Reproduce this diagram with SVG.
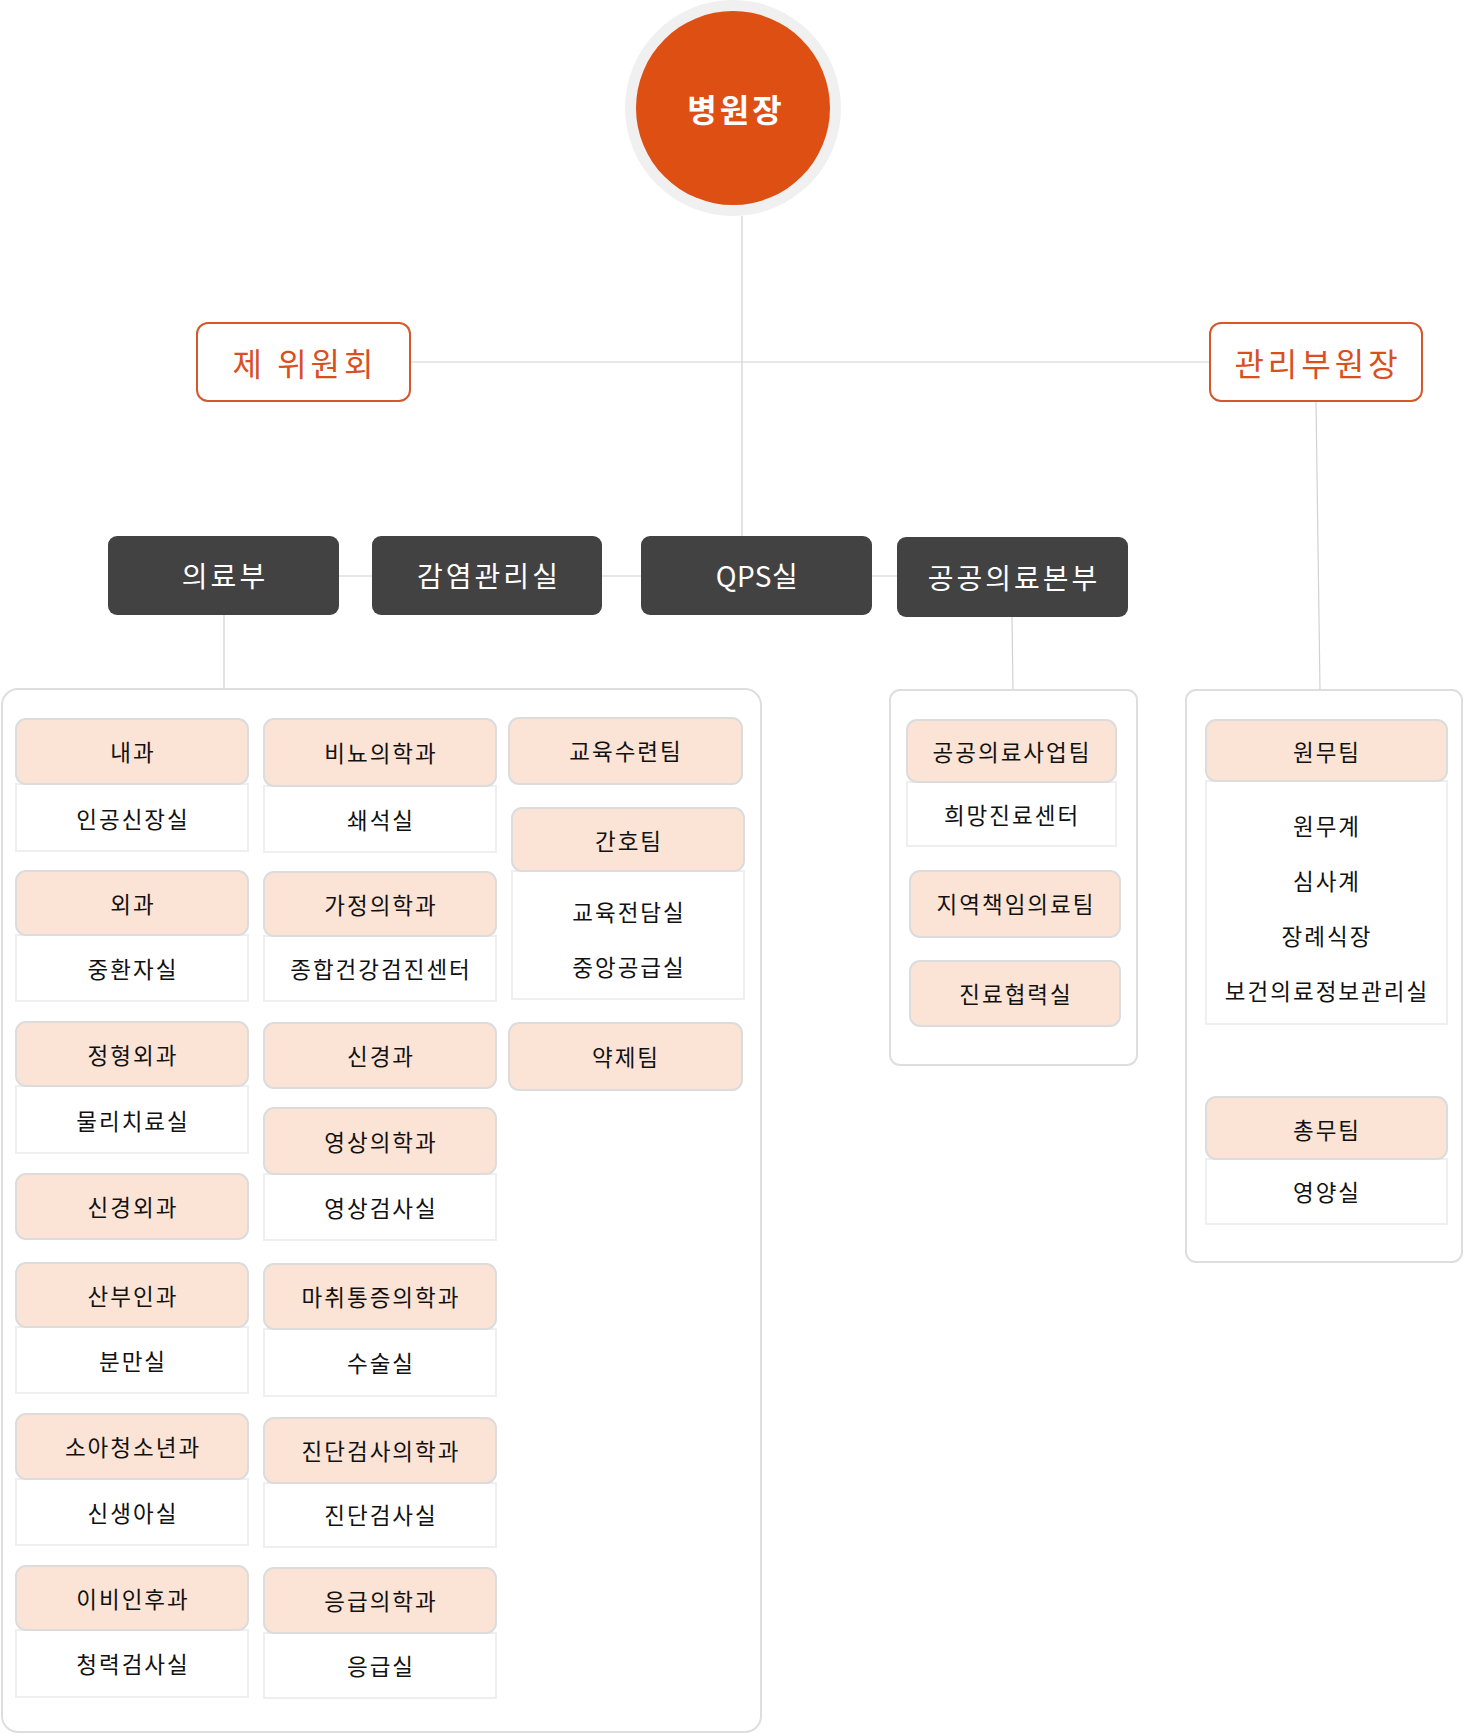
<svg xmlns="http://www.w3.org/2000/svg" width="1464" height="1734" viewBox="0 0 1464 1734">
<style>
.bg{fill:#ffffff}
.conn{stroke:#d2d2d2;stroke-width:1.2;fill:none}
.grp{fill:#ffffff;stroke:#dedede;stroke-width:2}
.hdr{fill:#fbe4d6;stroke:#dcdcdc;stroke-width:2}
.bdy{fill:#ffffff;stroke:#efefef;stroke-width:2}
.dark{fill:#424242}
.out{fill:#ffffff;stroke:#d4582a;stroke-width:2}
.t{font-family:"Noto Sans CJK KR","Noto Sans",sans-serif;font-size:22.5px;fill:#111111;text-anchor:middle;dominant-baseline:central;letter-spacing:2px}
.td{font-family:"Noto Sans CJK KR","Noto Sans",sans-serif;font-size:28px;fill:#ffffff;text-anchor:middle;dominant-baseline:central;letter-spacing:3px}
.to{font-family:"Noto Sans CJK KR","Noto Sans",sans-serif;font-size:32px;fill:#d9501e;text-anchor:middle;dominant-baseline:central;letter-spacing:4px}
.tc{font-family:"Noto Sans CJK KR","Noto Sans",sans-serif;font-size:32px;font-weight:bold;fill:#ffffff;text-anchor:middle;dominant-baseline:central;letter-spacing:3px}
</style>
<rect class="bg" x="0" y="0" width="1464" height="1734"/>

<g id="connectors">
<line class="conn" x1="742" y1="216" x2="742" y2="537"/>
<line class="conn" x1="410" y1="362" x2="1209" y2="362"/>
<line class="conn" x1="1316" y1="401" x2="1320" y2="690"/>
<line class="conn" x1="338" y1="576" x2="897" y2="576"/>
<line class="conn" x1="224" y1="615" x2="224" y2="689"/>
<line class="conn" x1="1012" y1="617" x2="1013" y2="690"/>
</g>

<g id="director">
<circle cx="733" cy="108" r="108" fill="#f0f0f0"/>
<circle cx="733" cy="108" r="97" fill="#de4f14"/>
<text class="tc" x="736" y="108">병원장</text>
</g>

<g id="committee">
<rect class="out" x="197" y="323" width="213" height="78" rx="11"/>
<text class="to" x="305" y="362">제 위원회</text>
</g>
<g id="vice-director">
<rect class="out" x="1210" y="323" width="212" height="78" rx="11"/>
<text class="to" x="1318" y="362">관리부원장</text>
</g>

<g id="medical-dept">
<rect class="dark" x="108" y="536" width="231" height="79" rx="9"/>
<text class="td" x="225" y="575">의료부</text>
</g>
<g id="infection-control">
<rect class="dark" x="372" y="536" width="230" height="79" rx="9"/>
<text class="td" x="489" y="575">감염관리실</text>
</g>
<g id="qps">
<rect class="dark" x="641" y="536" width="231" height="79" rx="9"/>
<text class="td" x="757" y="575" style="letter-spacing:0.5px">QPS실</text>
</g>
<g id="public-health">
<rect class="dark" x="897" y="537" width="231" height="80" rx="9"/>
<text class="td" x="1014" y="577">공공의료본부</text>
</g>

<g id="group-medical">
<rect class="grp" x="2" y="689" width="759" height="1043" rx="16"/>
</g>
<g id="group-public">
<rect class="grp" x="890" y="690" width="247" height="375" rx="10"/>
</g>
<g id="group-admin">
<rect class="grp" x="1186" y="690" width="276" height="572" rx="10"/>
</g>

<!-- Column 1 -->
<g id="n-naegwa">
<rect class="bdy" x="16" y="784" width="232" height="67"/>
<rect class="hdr" x="16" y="719" width="232" height="65" rx="10"/>
<text class="t" x="133" y="751">내과</text>
<text class="t" x="133" y="818">인공신장실</text>
</g>
<g id="n-oegwa">
<rect class="bdy" x="16" y="935" width="232" height="66"/>
<rect class="hdr" x="16" y="871" width="232" height="64" rx="10"/>
<text class="t" x="133" y="903">외과</text>
<text class="t" x="133" y="968">중환자실</text>
</g>
<g id="n-ortho">
<rect class="bdy" x="16" y="1086" width="232" height="67"/>
<rect class="hdr" x="16" y="1022" width="232" height="64" rx="10"/>
<text class="t" x="133" y="1054">정형외과</text>
<text class="t" x="133" y="1120">물리치료실</text>
</g>
<g id="n-neurosurg">
<rect class="hdr" x="16" y="1174" width="232" height="65" rx="10"/>
<text class="t" x="133" y="1206">신경외과</text>
</g>
<g id="n-obgyn">
<rect class="bdy" x="16" y="1327" width="232" height="66"/>
<rect class="hdr" x="16" y="1263" width="232" height="64" rx="10"/>
<text class="t" x="133" y="1295">산부인과</text>
<text class="t" x="133" y="1360">분만실</text>
</g>
<g id="n-pediatrics">
<rect class="bdy" x="16" y="1479" width="232" height="66"/>
<rect class="hdr" x="16" y="1414" width="232" height="65" rx="10"/>
<text class="t" x="133" y="1446">소아청소년과</text>
<text class="t" x="133" y="1512">신생아실</text>
</g>
<g id="n-ent">
<rect class="bdy" x="16" y="1630" width="232" height="67"/>
<rect class="hdr" x="16" y="1566" width="232" height="64" rx="10"/>
<text class="t" x="133" y="1598">이비인후과</text>
<text class="t" x="133" y="1663">청력검사실</text>
</g>

<!-- Column 2 -->
<g id="n-urology">
<rect class="bdy" x="264" y="786" width="232" height="66"/>
<rect class="hdr" x="264" y="719" width="232" height="67" rx="10"/>
<text class="t" x="381" y="752">비뇨의학과</text>
<text class="t" x="381" y="819">쇄석실</text>
</g>
<g id="n-family">
<rect class="bdy" x="264" y="936" width="232" height="65"/>
<rect class="hdr" x="264" y="872" width="232" height="64" rx="10"/>
<text class="t" x="381" y="904">가정의학과</text>
<text class="t" x="381" y="968">종합건강검진센터</text>
</g>
<g id="n-neurology">
<rect class="hdr" x="264" y="1023" width="232" height="65" rx="10"/>
<text class="t" x="381" y="1055">신경과</text>
</g>
<g id="n-radiology">
<rect class="bdy" x="264" y="1174" width="232" height="66"/>
<rect class="hdr" x="264" y="1108" width="232" height="66" rx="10"/>
<text class="t" x="381" y="1141">영상의학과</text>
<text class="t" x="381" y="1207">영상검사실</text>
</g>
<g id="n-anesthesia">
<rect class="bdy" x="264" y="1329" width="232" height="67"/>
<rect class="hdr" x="264" y="1264" width="232" height="65" rx="10"/>
<text class="t" x="381" y="1296">마취통증의학과</text>
<text class="t" x="381" y="1362">수술실</text>
</g>
<g id="n-labmed">
<rect class="bdy" x="264" y="1483" width="232" height="64"/>
<rect class="hdr" x="264" y="1418" width="232" height="65" rx="10"/>
<text class="t" x="381" y="1450">진단검사의학과</text>
<text class="t" x="381" y="1514">진단검사실</text>
</g>
<g id="n-emergency">
<rect class="bdy" x="264" y="1633" width="232" height="65"/>
<rect class="hdr" x="264" y="1568" width="232" height="65" rx="10"/>
<text class="t" x="381" y="1600">응급의학과</text>
<text class="t" x="381" y="1665">응급실</text>
</g>

<!-- Column 3 -->
<g id="n-education">
<rect class="hdr" x="509" y="718" width="233" height="66" rx="10"/>
<text class="t" x="626" y="750">교육수련팀</text>
</g>
<g id="n-nursing">
<rect class="bdy" x="512" y="871" width="232" height="128"/>
<rect class="hdr" x="512" y="808" width="232" height="63" rx="10"/>
<text class="t" x="629" y="840">간호팀</text>
<text class="t" x="629" y="911">교육전담실</text>
<text class="t" x="629" y="966">중앙공급실</text>
</g>
<g id="n-pharmacy">
<rect class="hdr" x="509" y="1023" width="233" height="67" rx="10"/>
<text class="t" x="626" y="1056">약제팀</text>
</g>

<!-- Public health group -->
<g id="n-public-project">
<rect class="bdy" x="907" y="782" width="209" height="64"/>
<rect class="hdr" x="907" y="720" width="209" height="62" rx="10"/>
<text class="t" x="1012" y="751">공공의료사업팀</text>
<text class="t" x="1012" y="814">희망진료센터</text>
</g>
<g id="n-regional">
<rect class="hdr" x="910" y="871" width="210" height="66" rx="10"/>
<text class="t" x="1016" y="903">지역책임의료팀</text>
</g>
<g id="n-cooperation">
<rect class="hdr" x="910" y="961" width="210" height="65" rx="10"/>
<text class="t" x="1016" y="993">진료협력실</text>
</g>

<!-- Admin group -->
<g id="n-wonmu">
<rect class="bdy" x="1206" y="781" width="241" height="243"/>
<rect class="hdr" x="1206" y="720" width="241" height="61" rx="10"/>
<text class="t" x="1327" y="751">원무팀</text>
<text class="t" x="1327" y="825">원무계</text>
<text class="t" x="1327" y="880">심사계</text>
<text class="t" x="1327" y="935">장례식장</text>
<text class="t" x="1327" y="990">보건의료정보관리실</text>
</g>
<g id="n-general">
<rect class="bdy" x="1206" y="1159" width="241" height="65"/>
<rect class="hdr" x="1206" y="1097" width="241" height="62" rx="10"/>
<text class="t" x="1327" y="1129">총무팀</text>
<text class="t" x="1327" y="1191">영양실</text>
</g>
</svg>
